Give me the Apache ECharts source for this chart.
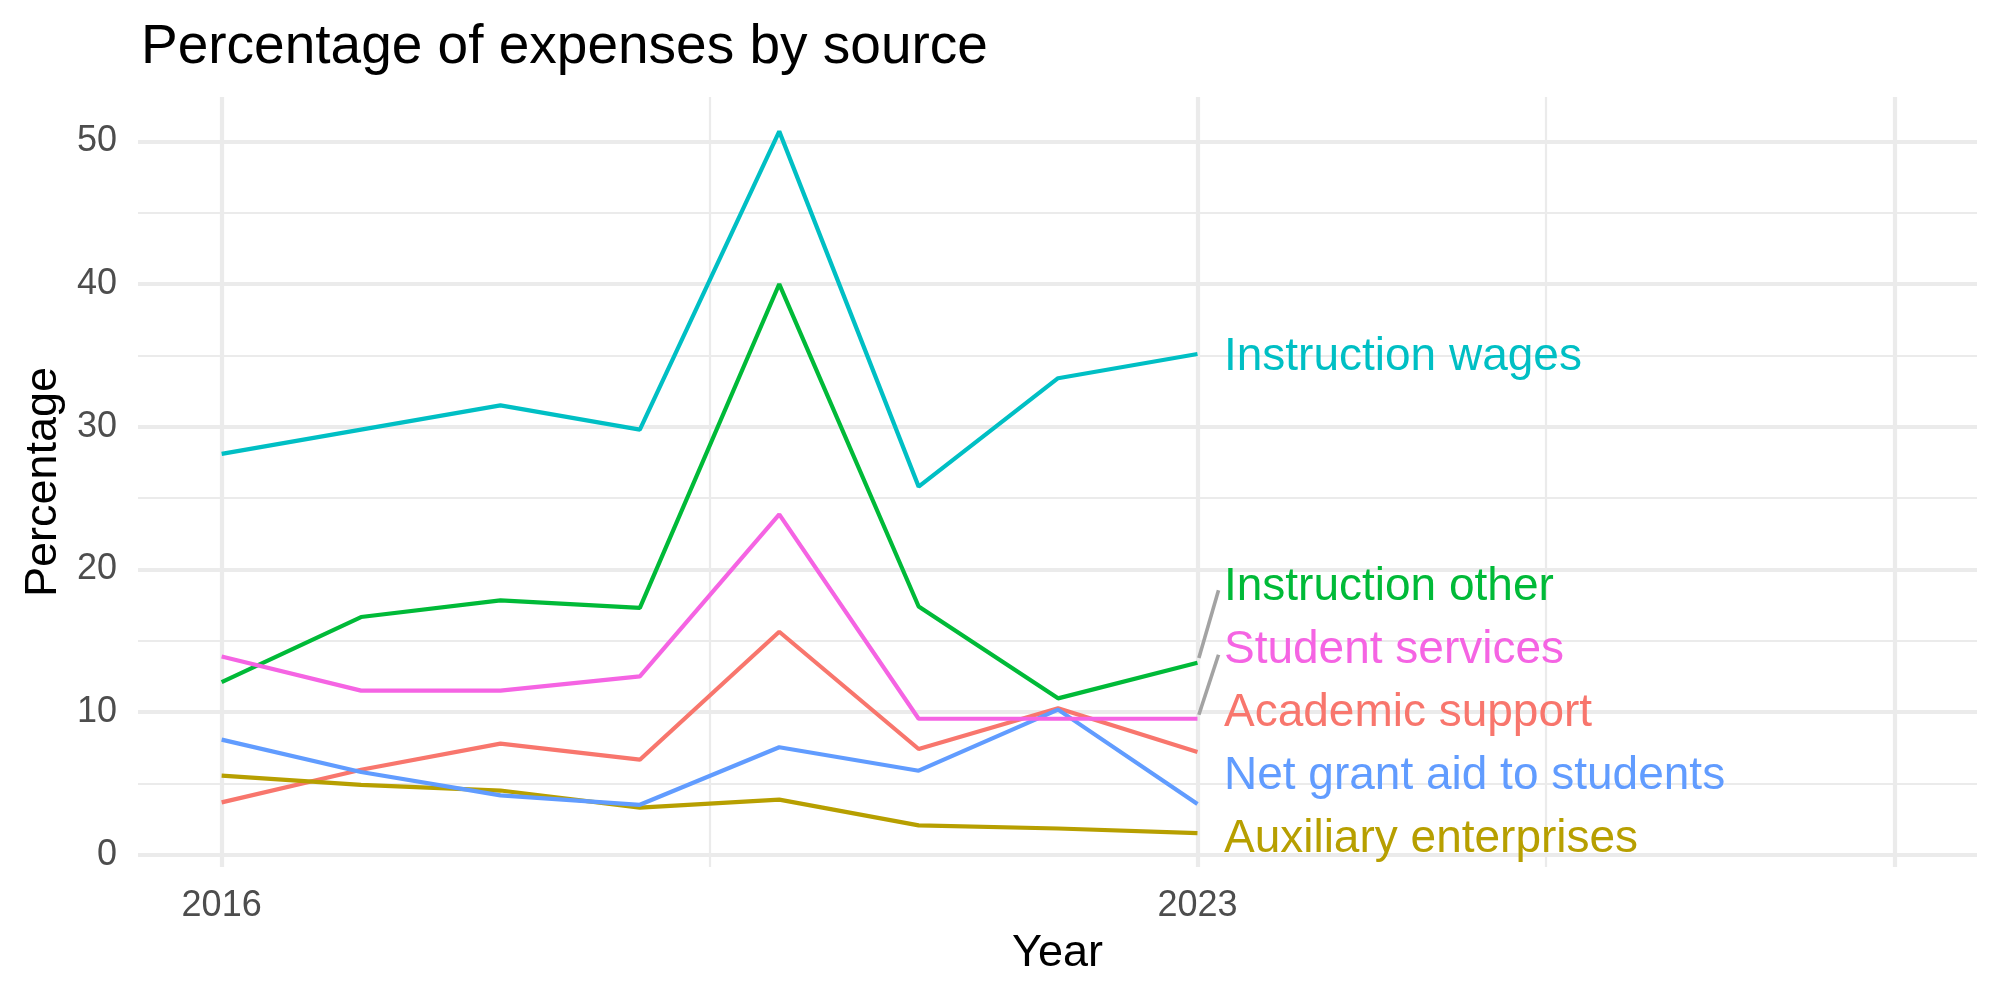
<!DOCTYPE html>
<html>
<head>
<meta charset="utf-8">
<title>Percentage of expenses by source</title>
<script src="https://cdn.jsdelivr.net/npm/echarts@6/dist/echarts.min.js"></script>
<style>
  html, body { margin: 0; padding: 0; background: #fff; }
  #chart { width: 2000px; height: 1000px; }
</style>
</head>
<body>
<div id="chart"></div>
<script>
var years = [2016, 2017, 2018, 2019, 2020, 2021, 2022, 2023]

var academicSupport = [3.67, 5.96, 7.79, 6.66, 15.63, 7.41, 10.26, 7.2]
var auxiliaryEnterprises = [5.54, 4.9, 4.5, 3.3, 3.86, 2.06, 1.84, 1.52]
var instructionOther = [12.1, 16.66, 17.83, 17.3, 40.0, 17.4, 10.96, 13.46]
var instructionWages = [28.1, 29.8, 31.5, 29.8, 50.7, 25.8, 33.4, 35.1]
var netGrantAid = [8.07, 5.8, 4.16, 3.5, 7.53, 5.89, 10.17, 3.55]
var studentServices = [13.9, 11.5, 11.5, 12.5, 23.86, 9.53, 9.53, 9.53]

var seriesNames = ['Academic support', 'Auxiliary enterprises', 'Instruction other',
  'Instruction wages', 'Net grant aid to students', 'Student services']
var seriesValues = [academicSupport, auxiliaryEnterprises, instructionOther,
  instructionWages, netGrantAid, studentServices]
var colors = ['#F8766D', '#B79F00', '#00BA38', '#00BFC4', '#619CFF', '#F564E3']

// axis ticks
var yTicks = [0, 10, 20, 30, 40, 50]
var yMinor = [5, 15, 25, 35, 45]
var xTicks = [2016, 2023]
var xMajor = [2016, 2023, 2028]
var xMinor = [2019.5, 2025.5]

// repelled end labels (value coords) and their leader segments
var labelX = 2023.19
var labelY = [10.09, 1.26, 18.93, 35.05, 5.68, 14.51]
var leaderSegments = [
  [[2023.01, 13.79], [2023.151, 18.53]],
  [[2023.01, 9.81], [2023.151, 14.02]]
]

var FONT = 'Liberation Sans, Arial, Helvetica, sans-serif'
var chart = echarts.init(document.getElementById('chart'))

var gridLines = []
yTicks.forEach(function(v) { gridLines.push({ yAxis: v, lineStyle: { width: 4.2 } }) })
yMinor.forEach(function(v) { gridLines.push({ yAxis: v, lineStyle: { width: 2.2 } }) })
xMajor.forEach(function(v) { gridLines.push({ xAxis: v, lineStyle: { width: 4.2 } }) })
xMinor.forEach(function(v) { gridLines.push({ xAxis: v, lineStyle: { width: 2.2 } }) })

var series = [{
  type: 'line',
  data: [],
  silent: true,
  z: 0,
  markLine: {
    z: 0,
    silent: true,
    animation: false,
    symbol: ['none', 'none'],
    label: { show: false },
    emphasis: { disabled: true },
    lineStyle: { color: '#EBEBEB', type: 'solid' },
    data: gridLines
  }
}]

seriesValues.forEach(function(vals, i) {
  series.push({
    name: seriesNames[i],
    type: 'line',
    z: 2,
    showSymbol: false,
    data: years.map(function(y, j) { return [y, vals[j]] }),
    lineStyle: { color: colors[i], width: 4.2 },
    itemStyle: { color: colors[i] }
  })
})

leaderSegments.forEach(function(seg) {
  series.push({
    type: 'line',
    z: 2,
    showSymbol: false,
    silent: true,
    data: seg,
    lineStyle: { color: '#A3A3A3', width: 3.6 }
  })
})

series.push({
  type: 'scatter',
  z: 10,
  symbolSize: 0,
  silent: true,
  itemStyle: { opacity: 1 },
  data: seriesNames.map(function(n, i) {
    return {
      name: n,
      value: [labelX, labelY[i]],
      label: { color: colors[i] }
    }
  }),
  label: {
    show: true,
    position: 'right',
    distance: 0,
    offset: [0, 3],
    formatter: '{b}',
    fontSize: 46,
    fontFamily: FONT,
    opacity: 1,
    textBorderWidth: 0
  }
})

chart.setOption({
  animation: false,
  backgroundColor: '#fff',
  title: {
    text: 'Percentage of expenses by source',
    left: 136,
    top: 15,
    textStyle: { fontSize: 55, fontWeight: 'normal', color: '#000', fontFamily: FONT }
  },
  grid: {
    left: 138,
    right: 23,
    top: 97,
    bottom: 133,
    containLabel: false
  },
  xAxis: {
    type: 'value',
    min: 2015.40,
    max: 2028.592,
    name: 'Year',
    nameLocation: 'middle',
    nameGap: 64,
    nameTextStyle: { fontSize: 45, color: '#000', fontFamily: FONT },
    axisLine: { show: false },
    axisTick: { show: false },
    splitLine: { show: false },
    axisLabel: {
      customValues: xTicks,
      margin: 21,
      fontSize: 36,
      color: '#4D4D4D',
      fontFamily: FONT,
      formatter: function(v) { return String(v) }
    }
  },
  yAxis: {
    type: 'value',
    min: -0.86,
    max: 53.11,
    name: 'Percentage',
    nameLocation: 'middle',
    nameRotate: 90,
    nameGap: 70,
    nameTextStyle: { fontSize: 45, color: '#000', fontFamily: FONT },
    axisLine: { show: false },
    axisTick: { show: false },
    splitLine: { show: false },
    axisLabel: {
      customValues: yTicks,
      margin: 21,
      fontSize: 36,
      color: '#4D4D4D',
      fontFamily: FONT
    }
  },
  series: series
})
</script>
</body>
</html>
